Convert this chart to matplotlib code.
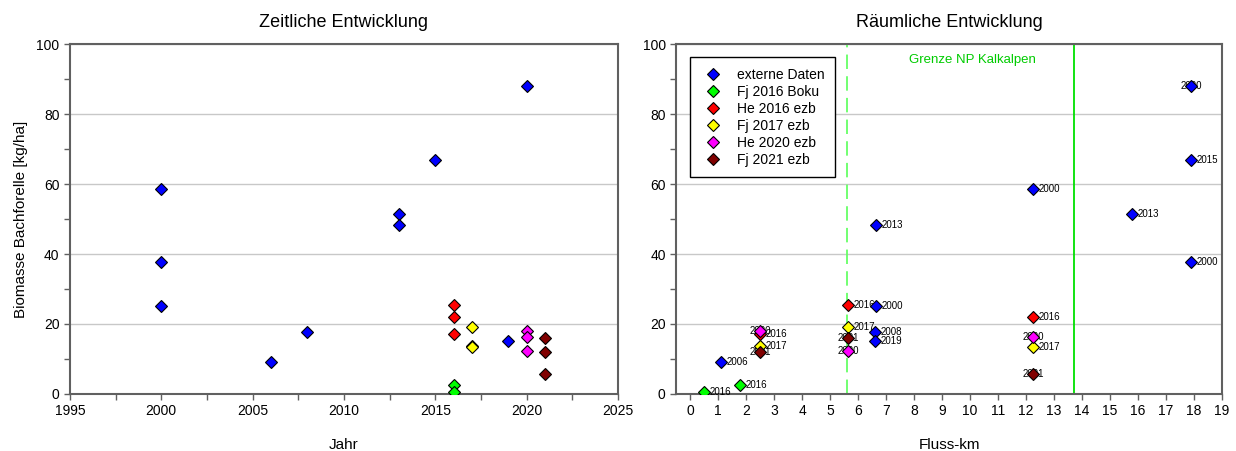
import matplotlib
matplotlib.use("Agg")
import matplotlib.pyplot as plt
from matplotlib.ticker import MultipleLocator

plt.rcParams["font.family"] = ["Liberation Sans", "DejaVu Sans"]

# Series names and colours
series_names = ["externe Daten", "Fj 2016 Boku", "He 2016 ezb", "Fj 2017 ezb", "He 2020 ezb", "Fj 2021 ezb"]
series_colors = ["#0000ff", "#00ff00", "#ff0000", "#ffff00", "#ff00ff", "#800000"]

# Sampling year per record
ext_year = [2000, 2000, 2000, 2006, 2008, 2013, 2013, 2015, 2019, 2020]
boku16_year = [2016, 2016]
he16_year = [2016, 2016, 2016]
fj17_year = [2017, 2017, 2017]
he20_year = [2020, 2020, 2020]
fj21_year = [2021, 2021, 2021]

# River kilometre per record
ext_km = [12.25, 17.9, 6.65, 1.1, 6.6, 15.8, 6.65, 17.9, 6.6, 17.9]
boku16_km = [1.8, 0.5]
he16_km = [5.65, 12.25, 2.5]
fj17_km = [5.65, 2.5, 12.25]
he20_km = [2.5, 12.25, 5.65]
fj21_km = [5.65, 2.5, 12.25]

# Biomass brown trout [kg/ha]
ext_bio = [58.5, 37.7, 25.0, 9.0, 17.8, 51.5, 48.3, 66.8, 15.2, 88.0]
boku16_bio = [2.5, 0.6]
he16_bio = [25.4, 22.1, 17.0]
fj17_bio = [19.0, 13.8, 13.3]
he20_bio = [18.0, 16.2, 12.4]
fj21_bio = [16.0, 12.0, 5.8]

years = [ext_year, boku16_year, he16_year, fj17_year, he20_year, fj21_year]
kms = [ext_km, boku16_km, he16_km, fj17_km, he20_km, fj21_km]
bios = [ext_bio, boku16_bio, he16_bio, fj17_bio, he20_bio, fj21_bio]

# Park boundary positions [Fluss-km]
boundary_dashed = 5.6
boundary_solid = 13.7

fig = plt.figure(figsize=(12.36, 4.51), dpi=100)
ax1 = fig.add_axes([0.0566, 0.1264, 0.4434, 0.776])
ax2 = fig.add_axes([0.547, 0.1264, 0.4417, 0.776])

spine_col = "#606060"
for ax in (ax1, ax2):
    ax.set_ylim(0, 100)
    ax.yaxis.set_major_locator(MultipleLocator(20))
    ax.yaxis.set_minor_locator(MultipleLocator(10))
    ax.grid(axis="y", which="major", color="#c8c8c8", linewidth=1.0, zorder=0)
    for side in ("top", "right", "left", "bottom"):
        ax.spines[side].set_color(spine_col)
        ax.spines[side].set_linewidth(1.5)
    ax.tick_params(which="both", direction="out", color=spine_col, labelsize=10, top=False, right=False)
    ax.tick_params(which="major", length=4, width=1)
    ax.tick_params(which="minor", length=4, width=1)
    ax.set_axisbelow(True)

ms = 6.5
# Left panel: over time
for yr, bio, col in zip(years, bios, series_colors):
    ax1.plot(yr, bio, linestyle="none", marker="D", markersize=ms, markerfacecolor=col,
             markeredgecolor="black", markeredgewidth=0.8, zorder=3)
ax1.set_xlim(1995, 2025)
ax1.xaxis.set_major_locator(MultipleLocator(5))
ax1.xaxis.set_minor_locator(MultipleLocator(2.5))
ax1.set_title("Zeitliche Entwicklung", fontsize=13, pad=12)
ax1.set_xlabel("Jahr", fontsize=11, labelpad=14)
ax1.set_ylabel("Biomasse Bachforelle [kg/ha]", fontsize=11, labelpad=6)

# Right panel: along the river; some year labels sit centred behind their marker
centered_series = {4, 5}
for i, (km, bio, yr, col, name) in enumerate(zip(kms, bios, years, series_colors, series_names)):
    ax2.plot(km, bio, linestyle="none", marker="D", markersize=ms, markerfacecolor=col,
             markeredgecolor="black", markeredgewidth=0.8, zorder=4, label=name)
    for x, y, t in zip(km, bio, yr):
        if i in centered_series or (i == 0 and t == 2020):
            ax2.text(x, y, str(t), fontsize=7, ha="center", va="center", zorder=3)
        else:
            ax2.annotate(str(t), (x, y), xytext=(4, 0), textcoords="offset points",
                         fontsize=7, ha="left", va="center", zorder=3)

ax2.axvline(boundary_dashed, color="#66ff66", linewidth=1.3, linestyle=(0, (8, 4)), zorder=2)
ax2.axvline(boundary_solid, color="#00e000", linewidth=1.3, zorder=2)
ax2.text(10.1, 95.4, "Grenze NP Kalkalpen", color="#00cc00", fontsize=9.5, ha="center", va="center")

ax2.set_xlim(-0.5, 19)
ax2.xaxis.set_major_locator(MultipleLocator(1))
ax2.set_title("Räumliche Entwicklung", fontsize=13, pad=12)
ax2.set_xlabel("Fluss-km", fontsize=11, labelpad=14)

leg = ax2.legend(loc="upper left", bbox_to_anchor=(0.026, 0.962), fontsize=10, frameon=True,
                 fancybox=False, edgecolor="black", framealpha=1, handletextpad=0.8,
                 borderpad=0.75, labelspacing=0.22, handlelength=1.8, borderaxespad=0)
leg.get_frame().set_linewidth(1.0)

fig.savefig("out.png", dpi=100)
